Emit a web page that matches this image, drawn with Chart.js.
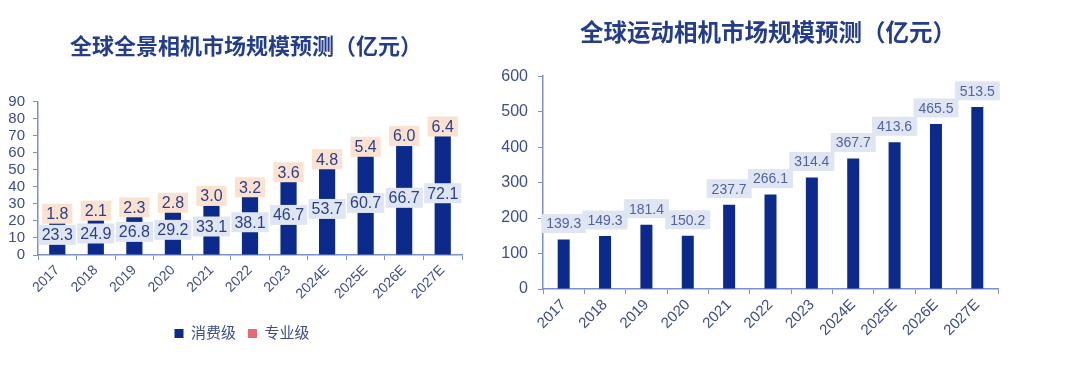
<!DOCTYPE html>
<html>
<head>
<meta charset="utf-8">
<script src="https://cdn.jsdelivr.net/npm/chart.js@4.4.1/dist/chart.umd.min.js"></script>
<style>
  html, body { margin: 0; padding: 0; background: #fff; }
  body { width: 1080px; height: 371px; position: relative; overflow: hidden; }
  .box { position: absolute; top: 0; height: 371px; }
  #left { left: 0; width: 480px; }
  #right { left: 490px; width: 590px; }
</style>
</head>
<body>
<div class="box" id="left"><canvas id="panoChart"></canvas></div>
<div class="box" id="right"><canvas id="actionChart"></canvas></div>
<script>
// data
const years = ['2017', '2018', '2019', '2020', '2021', '2022', '2023', '2024E', '2025E', '2026E', '2027E'];
const consumerValues = [23.3, 24.9, 26.8, 29.2, 33.1, 38.1, 46.7, 53.7, 60.7, 66.7, 72.1];
const proValues = [1.8, 2.1, 2.3, 2.8, 3.0, 3.2, 3.6, 4.8, 5.4, 6.0, 6.4];
const actionValues = [139.3, 149.3, 181.4, 150.2, 237.7, 266.1, 314.4, 367.7, 413.6, 465.5, 513.5];
const panoTicks = { min: 0, max: 90, step: 10 };
const actionTicks = { min: 0, max: 600, step: 100 };

const FONT = '"Liberation Sans", Arial, "Noto Sans CJK SC", sans-serif';
const NAVY = '#0b2a8c';
const PINK = '#e46a72';
const AXIS = '#7d90cb';
const TICK_TEXT = '#3d4d8e';
const TITLE = '#233d8c';

// draws value labels in filled boxes
const boxLabels = {
  id: 'boxLabels',
  afterLayout(chart) {
    // nudge title / legend sideways so they sit where the reference has them
    const cfg = chart.options.plugins.boxLabels || {};
    if (cfg.titleShift && chart.titleBlock) {
      chart.titleBlock.left += cfg.titleShift;
      chart.titleBlock.right += cfg.titleShift;
    }
    if (cfg.legendShift && chart.legend) {
      chart.legend.left += cfg.legendShift;
      chart.legend.right += cfg.legendShift;
    }
  },
  afterDatasetsDraw(chart) {
    const cfg = chart.options.plugins.boxLabels;
    if (!cfg || !cfg.items) return;
    const ctx = chart.ctx;
    ctx.save();
    cfg.items.forEach(item => {
      const meta = chart.getDatasetMeta(item.datasetIndex);
      const data = chart.data.datasets[item.datasetIndex].data;
      ctx.font = item.font;
      ctx.textAlign = 'center';
      ctx.textBaseline = 'middle';
      meta.data.forEach((bar, i) => {
        const text = data[i].toFixed(1);
        let y;
        if (item.position === 'center') {
          y = (bar.y + bar.base) / 2;
        } else {
          y = bar.y - item.offset;
        }
        const w = ctx.measureText(text).width + item.padX * 2;
        const h = item.boxHeight;
        ctx.fillStyle = item.bg;
        ctx.fillRect(bar.x - w / 2, y - h / 2, w, h);
        ctx.fillStyle = item.color;
        ctx.fillText(text, bar.x, y + 1);
      });
    });
    ctx.restore();
  }
};

function axisScales(ticks, yWidth, xHeight, yFont, xFont, yPad) {
  return {
    x: {
      stacked: true,
      grid: { display: true, drawOnChartArea: false, drawTicks: true, tickLength: 5, color: AXIS, offset: true },
      border: { display: true, color: AXIS, width: 1.5 },
      ticks: { color: TICK_TEXT, font: { family: FONT, size: xFont }, minRotation: 45, maxRotation: 45, padding: 2, autoSkip: false },
      afterFit(scale) { scale.height = xHeight; }
    },
    y: {
      stacked: true,
      min: ticks.min,
      max: ticks.max,
      grid: { display: true, drawOnChartArea: false, drawTicks: true, tickLength: 5, color: AXIS },
      border: { display: true, color: AXIS, width: 1.5 },
      ticks: { stepSize: ticks.step, color: TICK_TEXT, font: { family: FONT, size: yFont }, padding: yPad, autoSkip: false },
      afterFit(scale) { scale.width = yWidth; }
    }
  };
}

new Chart(document.getElementById('panoChart'), {
  type: 'bar',
  data: {
    labels: years,
    datasets: [
      { label: '消费级', data: consumerValues, backgroundColor: NAVY, categoryPercentage: 1, barPercentage: 0.42 },
      { label: '专业级', data: proValues, backgroundColor: 'rgba(0,0,0,0)', categoryPercentage: 1, barPercentage: 0.42 }
    ]
  },
  options: {
    responsive: true,
    maintainAspectRatio: false,
    animation: false,
    layout: { padding: { left: 0, right: 18, top: 0, bottom: 20 } },
    scales: axisScales(panoTicks, 38, 59, 15, 14, 8),
    plugins: {
      title: {
        display: true,
        text: '全球全景相机市场规模预测（亿元）',
        color: TITLE,
        font: { family: FONT, size: 22, weight: 'bold' },
        padding: { top: 35, bottom: 40 }
      },
      legend: {
        display: true,
        position: 'bottom',
        labels: {
          color: TICK_TEXT,
          font: { family: FONT, size: 15 },
          boxWidth: 9,
          boxHeight: 9,
          padding: 12,
          generateLabels(chart) {
            const items = Chart.defaults.plugins.legend.labels.generateLabels(chart);
            const colors = [NAVY, PINK];
            items.forEach((it, i) => {
              it.fillStyle = colors[i];
              it.strokeStyle = colors[i];
              it.lineWidth = 0;
            });
            return items;
          }
        }
      },
      tooltip: { enabled: false },
      boxLabels: {
        titleShift: 15,
        legendShift: 11,
        items: [
          { datasetIndex: 0, position: 'center', font: '16px ' + FONT, color: '#2b3f86', bg: '#dfe6f2', padX: 3, boxHeight: 20 },
          { datasetIndex: 1, position: 'center', font: '16px ' + FONT, color: '#2b3f86', bg: '#fbe2d0', padX: 4, boxHeight: 20 }
        ]
      }
    }
  },
  plugins: [boxLabels]
});

new Chart(document.getElementById('actionChart'), {
  type: 'bar',
  data: {
    labels: years,
    datasets: [
      { label: '运动相机', data: actionValues, backgroundColor: NAVY, categoryPercentage: 1, barPercentage: 0.29 }
    ]
  },
  options: {
    responsive: true,
    maintainAspectRatio: false,
    animation: false,
    layout: { padding: { left: 0, right: 82, top: 0, bottom: 22 } },
    scales: axisScales(actionTicks, 53, 60, 16, 15, 10),
    plugins: {
      title: {
        display: true,
        text: '全球运动相机市场规模预测（亿元）',
        color: TITLE,
        font: { family: FONT, size: 23.5, weight: 'bold' },
        padding: { top: 20, bottom: 28 }
      },
      legend: { display: false },
      tooltip: { enabled: false },
      boxLabels: {
        titleShift: 24,
        items: [
          { datasetIndex: 0, position: 'top', offset: 16, font: '14px ' + FONT, color: '#5163a6', bg: '#dfe5f1', padX: 5, boxHeight: 19 }
        ]
      }
    }
  },
  plugins: [boxLabels]
});
</script>
</body>
</html>
